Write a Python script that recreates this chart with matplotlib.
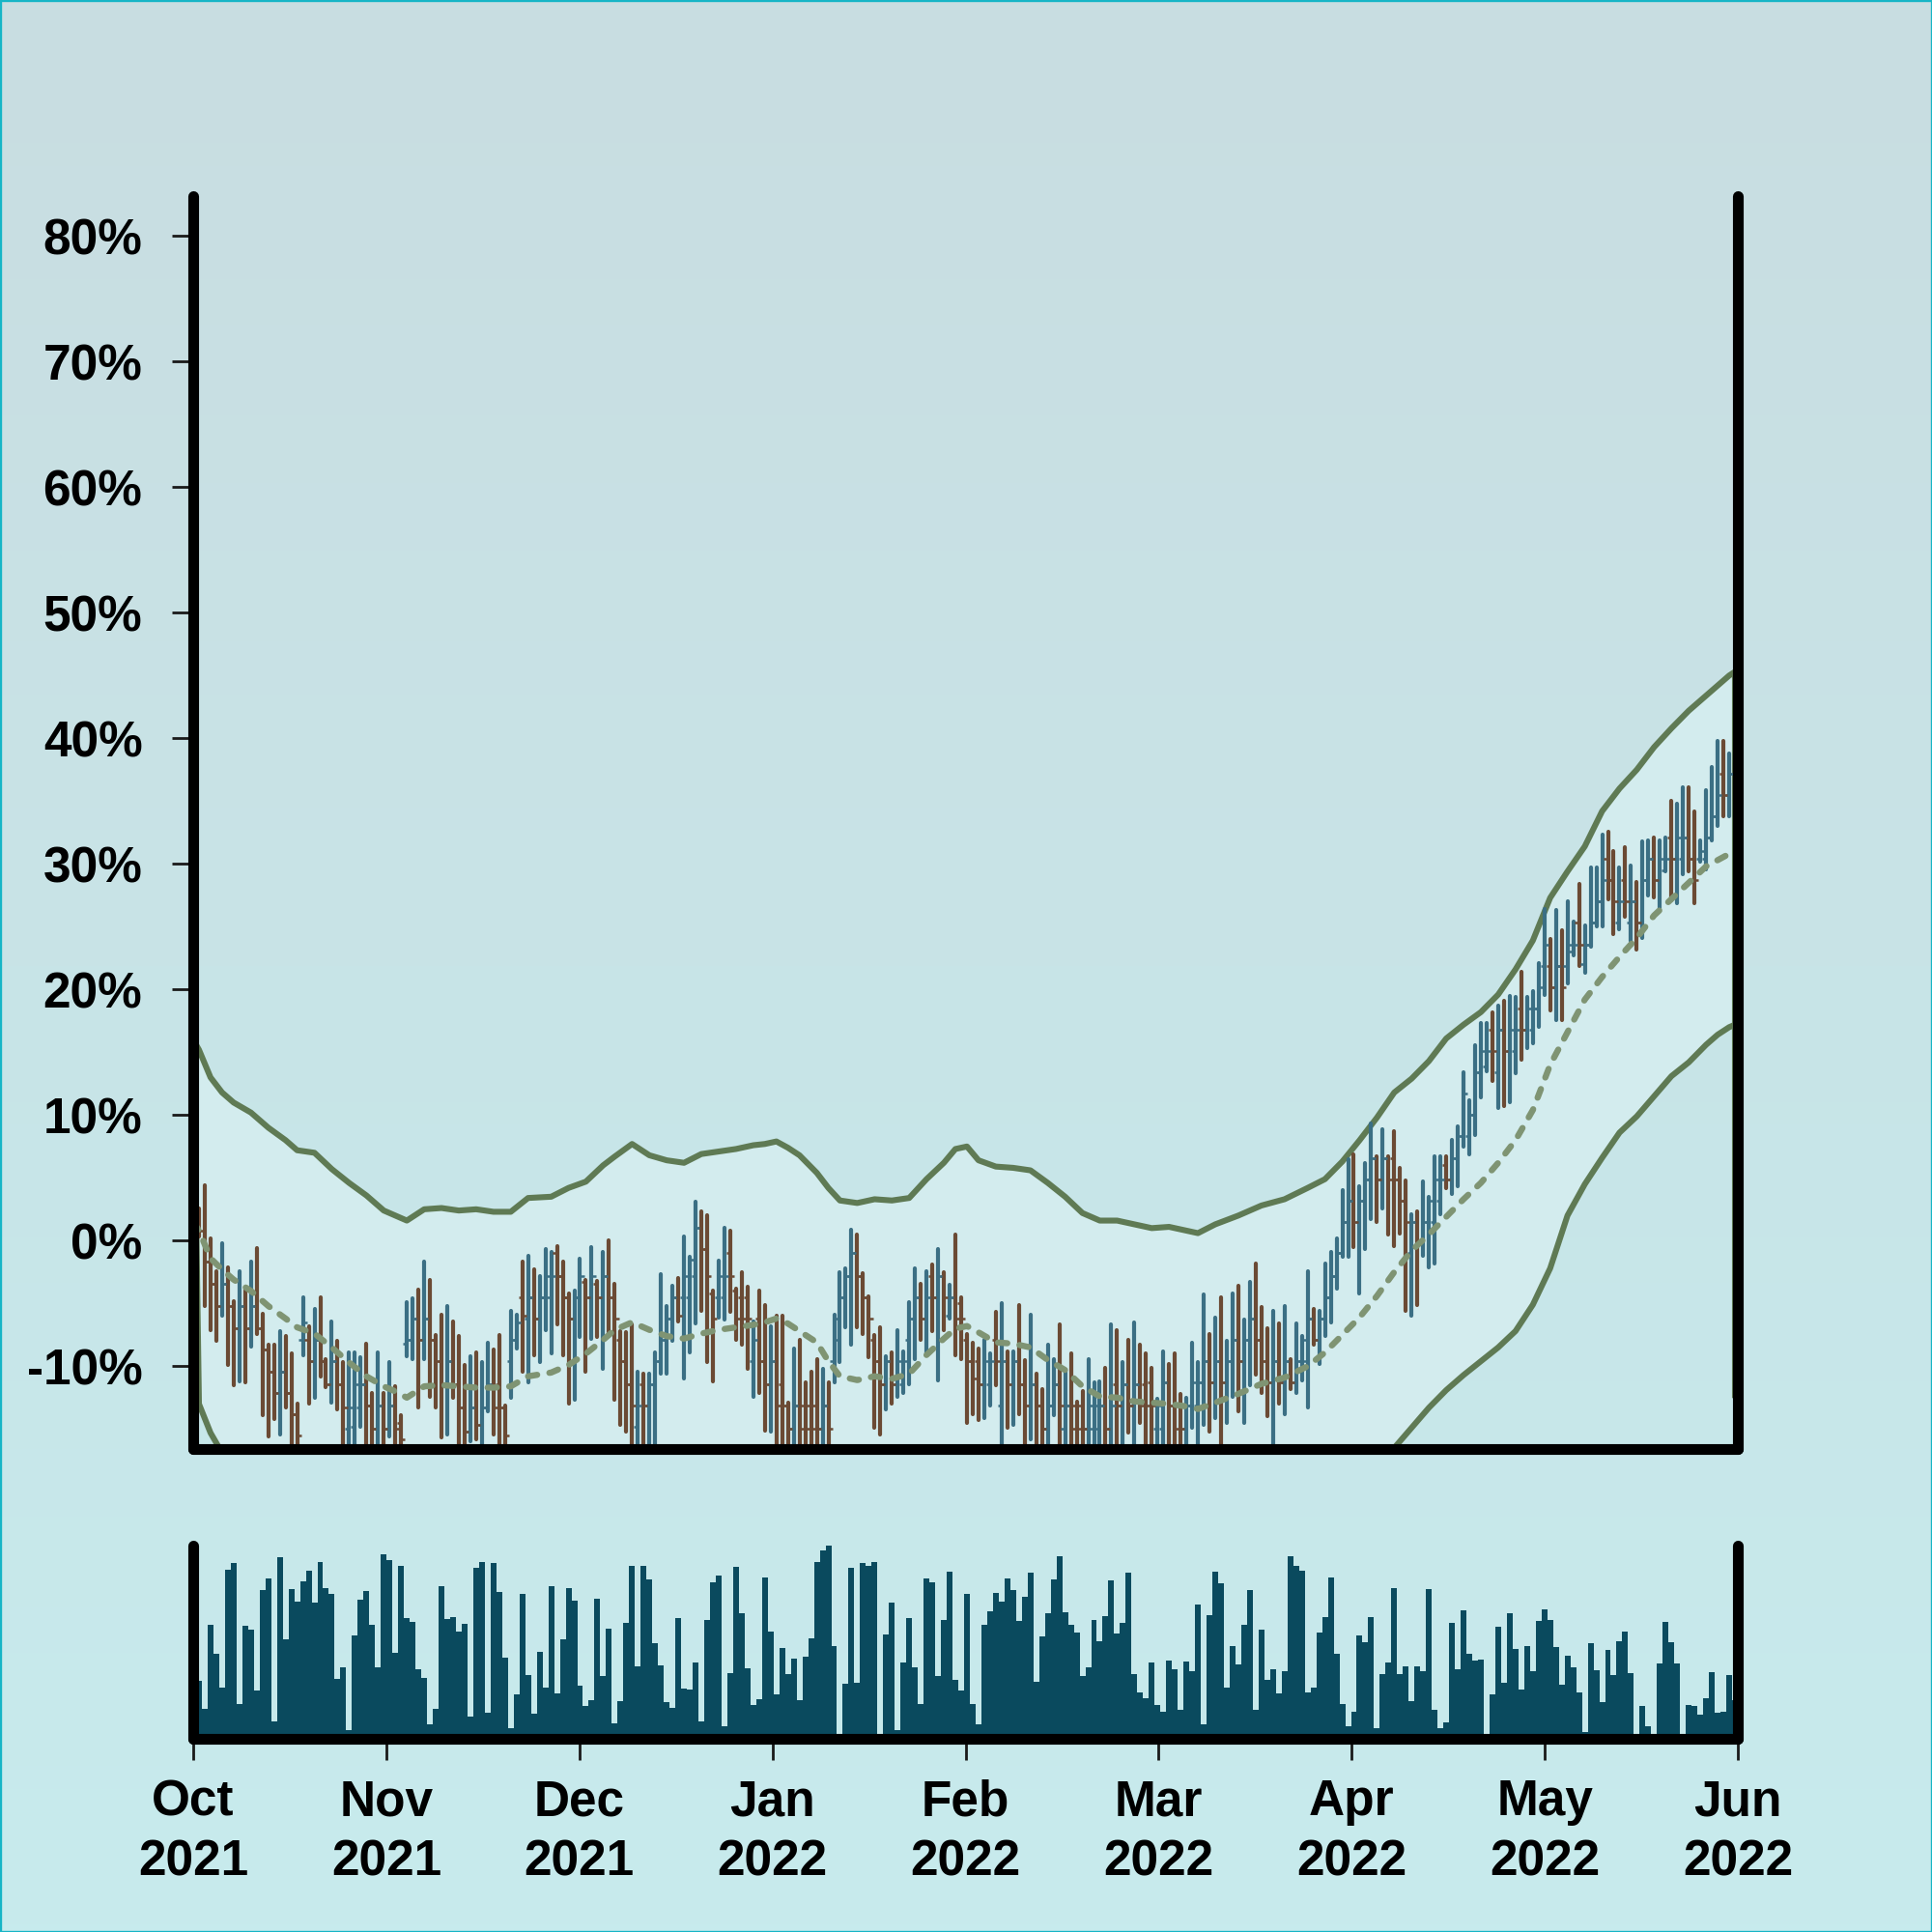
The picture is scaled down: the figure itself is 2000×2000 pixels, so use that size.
#!/usr/bin/env python3
"""
Price change OHLC chart with band, moving average and volume panel.
"""

import matplotlib
matplotlib.use("Agg")
import matplotlib.pyplot as plt
import numpy as np
from matplotlib.collections import LineCollection
from matplotlib.patches import Rectangle

# Daily bars (% change), index 0..267
opens = [
    1.5, 2.0, 0.1, -1.7, -3.4, -5.2, -3.4, -5.2, -7.0, -5.2,
    -7.0, -5.2, -7.0, -8.7, -10.4, -12.1, -10.4, -12.1, -13.8, -7.9,
    -7.9, -9.6, -7.9, -9.6, -11.4, -9.6, -11.4, -15.0, -14.8, -13.3,
    -11.4, -13.1, -15.0, -13.1, -15.0, -13.1, -14.5, -8.2, -7.9, -6.2,
    -7.9, -6.2, -7.9, -9.6, -11.4, -9.6, -11.4, -13.3, -15.2, -13.3,
    -14.7, -13.3, -11.4, -11.4, -13.3, -9.6, -7.9, -4.5, -6.2, -4.5,
    -6.2, -4.5, -4.5, -1.0, -2.8, -4.5, -6.2, -4.5, -3.3, -4.5,
    -3.4, -4.5, -2.8, -4.5, -7.9, -9.6, -11.4, -14.8, -11.4, -13.1,
    -11.4, -9.6, -7.9, -6.2, -4.5, -4.5, -4.5, -2.8, 1.0, -0.7,
    -4.2, -4.5, -4.5, -1.0, -4.0, -4.5, -4.5, -9.6, -6.2, -9.6,
    -11.4, -9.6, -11.4, -13.1, -15.0, -13.1, -13.1, -13.1, -13.1, -15.0,
    -13.1, -9.6, -6.2, -4.5, -2.8, -1.0, -2.8, -4.5, -7.9, -9.6,
    -11.4, -9.6, -11.4, -11.4, -7.9, -6.2, -4.5, -6.2, -2.8, -4.5,
    -2.8, -6.0, -4.5, -5.0, -7.9, -9.6, -9.6, -11.4, -11.4, -7.9,
    -13.1, -9.6, -11.4, -9.6, -11.4, -13.1, -11.4, -13.1, -15.0, -13.1,
    -11.4, -15.0, -13.1, -13.1, -13.1, -15.0, -15.0, -15.0, -13.1, -15.0,
    -11.4, -13.1, -11.4, -13.1, -11.4, -11.4, -11.3, -15.0, -15.0, -11.3,
    -13.1, -13.1, -15.0, -13.1, -13.1, -11.3, -9.6, -11.3, -9.6, -11.3,
    -9.6, -7.9, -9.6, -7.9, -6.2, -7.9, -9.6, -11.3, -9.6, -11.3,
    -9.6, -11.3, -9.6, -9.6, -6.2, -7.9, -6.2, -4.5, -2.8, -1.0,
    1.5, 3.2, 1.5, 3.2, 4.9, 6.6, 4.9, 6.6, 6.6, 4.9,
    3.2, -1.0, 1.5, -0.2, 1.5, 1.5, 3.2, 6.0, 4.9, 6.6,
    8.3, 8.3, 10.0, 13.4, 13.9, 16.8, 13.4, 16.8, 15.1, 15.1,
    18.5, 16.8, 16.8, 18.5, 21.9, 21.9, 20.2, 21.9, 21.9, 23.0,
    25.3, 22.0, 23.6, 25.3, 27.0, 30.4, 28.7, 25.3, 28.7, 25.3,
    27.0, 25.3, 28.7, 30.4, 28.7, 29.5, 32.1, 30.4, 30.4, 32.1,
    30.4, 30.4, 30.4, 32.1, 33.8, 37.2, 35.5, 37.2,
]
highs = [
    3.0, 2.6, 4.4, 0.2, -2.4, -0.2, -2.1, -4.8, -2.4, -3.9,
    -1.7, -0.6, -5.8, -8.3, -8.3, -7.2, -7.6, -9.0, -13.0, -4.5,
    -6.8, -5.4, -4.5, -9.4, -6.4, -8.0, -9.7, -8.9, -8.9, -9.3,
    -8.2, -12.1, -8.9, -12.1, -9.7, -11.6, -13.9, -4.9, -4.6, -3.9,
    -1.7, -3.1, -7.5, -5.9, -5.2, -6.4, -7.6, -9.9, -9.2, -8.9,
    -9.7, -8.1, -8.7, -7.5, -13.1, -5.6, -5.9, -1.7, -1.2, -2.3,
    -2.8, -0.7, -0.9, -0.4, -1.7, -4.2, -4.0, -1.4, -3.1, -0.5,
    -3.2, -0.9, 0.0, -3.4, -7.2, -7.3, -6.7, -10.4, -10.6, -10.6,
    -8.9, -2.7, -5.2, -3.6, -3.0, 0.3, -1.3, 3.1, 2.3, 2.0,
    -4.0, -1.6, 1.0, 0.8, -3.8, -2.5, -3.7, -6.4, -4.0, -5.1,
    -6.8, -6.0, -6.0, -12.9, -8.6, -7.9, -11.3, -10.4, -9.4, -10.2,
    -11.3, -5.9, -2.5, -2.2, 0.9, 0.5, -2.6, -4.4, -7.5, -6.9,
    -9.2, -8.9, -7.1, -8.8, -4.9, -2.2, -3.4, -2.4, -1.9, -0.7,
    -2.5, -3.5, 0.5, -4.5, -7.4, -8.1, -8.6, -7.9, -9.0, -5.7,
    -5.0, -8.8, -8.8, -5.1, -9.5, -5.9, -10.6, -11.8, -8.3, -9.4,
    -6.7, -10.3, -9.0, -12.8, -12.0, -9.4, -11.3, -11.2, -10.1, -6.7,
    -7.1, -9.7, -7.9, -6.5, -8.3, -9.0, -10.1, -12.6, -8.8, -9.8,
    -9.0, -12.2, -12.5, -8.1, -9.7, -4.3, -7.4, -6.1, -4.5, -8.0,
    -4.2, -3.6, -6.3, -3.3, -1.8, -5.3, -7.0, -5.6, -6.6, -5.2,
    -9.4, -6.6, -7.6, -2.4, -5.4, -5.6, -1.8, -0.9, 0.2, 4.0,
    6.5, 6.9, 4.3, 6.2, 9.3, 6.7, 8.9, 6.7, 8.7, 5.8,
    4.8, 2.1, 2.3, 4.7, 3.5, 6.7, 6.7, 6.7, 8.0, 9.1,
    13.4, 11.2, 15.6, 17.3, 17.3, 18.2, 18.7, 19.1, 19.5, 19.4,
    21.4, 19.4, 19.9, 22.1, 26.4, 24.0, 26.3, 24.7, 27.0, 25.4,
    28.4, 25.1, 29.7, 29.7, 32.3, 32.6, 31.0, 29.7, 31.3, 29.9,
    28.6, 31.8, 31.9, 32.1, 31.9, 32.1, 35.0, 34.8, 36.1, 36.1,
    34.2, 31.9, 35.9, 37.7, 39.8, 39.8, 38.8, 38.0,
]
lows = [
    0.0, 0.3, -5.2, -7.1, -8.0, -6.0, -9.9, -11.5, -11.2, -11.3,
    -8.4, -7.4, -13.9, -15.6, -14.2, -15.4, -13.3, -17.0, -18.0, -9.1,
    -13.0, -12.5, -10.8, -11.7, -12.9, -13.4, -17.5, -18.0, -17.5, -14.8,
    -17.5, -18.0, -18.0, -18.0, -15.6, -17.5, -18.0, -9.2, -9.4, -13.3,
    -9.4, -12.4, -13.3, -15.7, -15.4, -12.5, -17.5, -18.0, -16.0, -15.8,
    -17.5, -13.6, -15.4, -17.5, -18.0, -12.5, -8.6, -10.4, -11.3, -9.1,
    -9.7, -7.1, -9.0, -6.7, -9.1, -13.0, -12.7, -7.7, -10.4, -7.8,
    -7.7, -10.2, -7.6, -12.7, -14.7, -15.2, -17.5, -18.0, -18.0, -18.0,
    -17.5, -10.6, -10.6, -8.0, -6.4, -11.0, -8.9, -6.6, -5.6, -9.7,
    -11.2, -6.1, -6.3, -5.7, -7.9, -8.3, -10.2, -12.4, -12.1, -15.1,
    -15.2, -17.5, -17.5, -18.0, -17.5, -17.5, -18.0, -18.0, -18.0, -18.0,
    -18.0, -11.3, -9.7, -6.9, -8.3, -6.9, -7.4, -9.3, -14.9, -15.4,
    -13.4, -13.0, -12.4, -12.1, -11.4, -9.4, -7.9, -9.0, -7.2, -11.1,
    -7.1, -6.2, -9.1, -9.4, -14.5, -13.8, -14.3, -14.1, -13.1, -11.5,
    -17.5, -14.9, -14.7, -13.8, -17.5, -15.8, -17.5, -18.0, -18.0, -13.9,
    -17.5, -17.5, -17.5, -18.0, -18.0, -18.0, -18.0, -18.0, -18.0, -17.5,
    -17.5, -17.5, -15.3, -17.5, -14.5, -17.5, -17.5, -18.0, -17.5, -17.5,
    -17.5, -18.0, -18.0, -14.9, -17.5, -14.7, -15.2, -14.1, -17.5, -14.5,
    -12.4, -13.6, -14.5, -11.5, -10.7, -12.1, -14.0, -17.5, -13.0, -13.8,
    -11.8, -12.1, -11.1, -13.3, -8.3, -9.8, -7.6, -6.5, -3.8, -1.3,
    -1.3, -0.5, -4.2, -0.7, 1.7, 1.5, 2.6, 0.5, -0.4, 0.6,
    -5.6, -6.0, -5.1, -1.2, -2.1, -1.8, 2.1, 4.2, 3.7, 4.3,
    7.5, 6.9, 8.4, 11.4, 13.5, 12.7, 10.6, 10.7, 11.0, 13.3,
    14.4, 15.3, 15.7, 17.0, 19.6, 18.3, 17.6, 17.6, 20.5, 22.7,
    21.9, 21.3, 23.4, 25.0, 25.0, 27.2, 24.4, 24.8, 25.8, 23.9,
    23.2, 24.1, 27.5, 27.3, 26.3, 29.4, 27.1, 26.9, 29.2, 29.4,
    26.9, 30.2, 29.6, 31.9, 33.0, 33.8, 33.8, 35.0,
]
closes = [
    1.0, 0.8, -1.7, -3.4, -5.2, -3.4, -5.2, -7.0, -5.2, -7.0,
    -5.2, -7.0, -8.7, -10.4, -12.1, -10.4, -12.1, -13.8, -15.5, -6.5,
    -9.6, -7.9, -9.6, -11.4, -9.6, -11.4, -13.3, -13.3, -11.4, -11.4,
    -13.1, -15.0, -13.1, -15.0, -13.1, -15.0, -15.8, -7.9, -6.2, -7.9,
    -6.2, -7.9, -9.6, -11.4, -9.6, -11.4, -13.3, -15.2, -13.3, -14.7,
    -13.3, -11.4, -13.3, -13.3, -15.5, -7.9, -6.5, -6.0, -4.5, -6.2,
    -4.5, -2.8, -2.8, -2.8, -4.5, -6.2, -4.5, -2.8, -4.5, -2.8,
    -4.5, -2.8, -4.5, -6.2, -9.6, -11.4, -13.1, -13.1, -13.1, -11.4,
    -9.6, -7.9, -6.2, -4.5, -6.0, -2.8, -1.5, 1.0, -0.7, -2.8,
    -6.2, -2.8, -2.8, -2.8, -6.2, -6.2, -6.2, -7.9, -9.6, -11.4,
    -9.6, -13.1, -13.1, -15.0, -13.1, -15.0, -15.0, -15.0, -15.0, -13.1,
    -15.0, -7.9, -4.5, -2.8, -1.0, -2.8, -4.5, -6.2, -9.6, -11.4,
    -9.6, -11.4, -9.6, -9.6, -6.2, -4.5, -6.2, -4.5, -4.5, -2.8,
    -4.5, -4.5, -6.2, -6.2, -9.6, -11.0, -11.4, -9.6, -9.6, -9.6,
    -9.6, -11.4, -9.6, -11.4, -13.1, -11.4, -13.1, -15.0, -13.1, -11.4,
    -13.1, -13.1, -15.0, -15.0, -15.0, -13.1, -13.1, -13.1, -15.0, -13.1,
    -13.1, -11.4, -13.1, -11.4, -13.1, -13.1, -13.1, -13.1, -11.3, -13.1,
    -15.0, -15.0, -13.1, -11.3, -11.3, -9.6, -11.3, -9.6, -11.3, -9.6,
    -7.9, -9.6, -7.9, -6.2, -7.9, -9.6, -11.3, -9.6, -11.3, -9.6,
    -11.3, -9.6, -7.9, -6.2, -7.9, -6.2, -4.5, -2.8, -1.0, 1.5,
    3.2, 1.5, 3.2, 4.9, 6.6, 4.9, 6.6, 4.9, 4.9, 3.2,
    1.5, 1.5, -0.2, 1.5, 3.2, 4.9, 4.9, 4.9, 6.6, 8.3,
    11.7, 10.0, 13.4, 15.1, 15.1, 15.1, 16.8, 15.1, 16.8, 16.8,
    16.8, 18.5, 18.5, 20.2, 23.6, 20.2, 21.9, 20.2, 23.6, 23.6,
    23.6, 23.6, 25.3, 27.0, 28.7, 28.7, 27.0, 27.0, 27.0, 27.0,
    25.3, 28.7, 30.4, 28.7, 30.4, 30.4, 30.4, 32.1, 32.1, 30.4,
    28.7, 31.0, 32.1, 33.8, 35.5, 35.5, 37.2, 36.0,
]

# Volume, as % of the panel height
volume = [
    40, 30, 15.3, 58.8, 43.8, 26.3, 87.5, 90.8, 18.2, 58.3,
    56.3, 25.2, 77, 83, 8.8, 93.8, 51.5, 77.7, 70.8, 81.7,
    86.8, 70.3, 91.3, 78, 74.8, 31, 37, 4.5, 53.3, 72,
    76.5, 59, 36.8, 95.3, 92.3, 44.5, 89.5, 62.7, 60.5, 36.2,
    31.3, 7.7, 15.5, 78.8, 61.8, 62.8, 55.3, 59.5, 11.3, 88.3,
    91.5, 13.7, 90.8, 76.2, 41.8, 5.3, 23.2, 74.8, 32.8, 12.8,
    45, 26.5, 79.2, 23.3, 51.3, 77.8, 71.7, 27.5, 17.2, 19.8,
    72.7, 32.3, 57, 8, 19.5, 60, 89.5, 37.7, 89.7, 82.3,
    49.3, 37.8, 18.8, 16.2, 62.3, 26.2, 25.5, 39.3, 8.8, 61.5,
    80.8, 84.5, 6.7, 34, 89, 65.2, 36.5, 17.3, 20.5, 83.5,
    55.5, 22.8, 47, 33.5, 41.5, 19.8, 42.3, 52, 91.3, 97.3,
    100, 48, 0, 28.3, 88.3, 29.2, 90.8, 89.7, 91.3, 0,
    53.8, 70.3, 4.3, 39.3, 62.3, 37.2, 17.8, 82.8, 80.8, 32.5,
    61.5, 86.5, 30.3, 25, 75, 17.8, 7.3, 58.8, 66, 75.5,
    70.8, 82.8, 77, 60.8, 73.7, 86, 29.5, 53.2, 65, 82.3,
    94.5, 65.5, 59.2, 55, 32.3, 37, 61.3, 50.7, 63.3, 82,
    54.7, 60, 86, 33.3, 23.8, 21.2, 39.3, 17.5, 14.2, 40.5,
    36.2, 15, 40, 35, 69.5, 7.7, 63.8, 86.3, 80.5, 26.3,
    48, 38.7, 59.2, 77, 15, 56.5, 30.3, 35.8, 23.7, 35,
    94.5, 89.3, 87.2, 24.2, 26.7, 54.8, 63, 83.3, 44, 17.8,
    6.5, 14.2, 53.7, 50, 62.8, 5.3, 33.3, 39.5, 77.8, 33.5,
    37.5, 19.5, 37.5, 35, 77.3, 15, 5.5, 8.5, 60, 36,
    66.3, 43.8, 40.3, 41, 0, 22.8, 57.8, 28.8, 64.8, 46.3,
    25.3, 48.2, 34.8, 60.8, 66.8, 61.3, 47.5, 28, 43.2, 37.2,
    24, 3.7, 49.3, 35.3, 18.8, 46.2, 32.8, 50.5, 55.5, 34.2,
    0, 16.8, 6.3, 0, 38.8, 60.3, 49.8, 38.8, 0, 17.3,
    16.8, 12.5, 21.2, 34.5, 13.3, 13.8, 32.8, 20,
]

# Moving average and band, sampled along the bar index
band_idx = [
    0, 1, 3, 5, 7, 10, 13, 16, 18, 21, 24, 27, 30, 33, 35, 37, 40, 43, 46, 49,
    52, 55, 58, 62, 65, 68, 71, 73, 76, 79, 82, 85, 88, 91, 94, 97, 99, 101, 103, 105,
    108, 110, 112, 115, 118, 121, 124, 127, 130, 132, 134, 136, 139, 142, 145, 148, 151, 154, 157, 160,
    163, 166, 169, 172, 174, 177, 181, 185, 189, 193, 196, 199, 202, 205, 208, 211, 214, 217, 220, 223,
    226, 229, 232, 235, 238, 241, 244, 247, 250, 253, 256, 259, 262, 264, 266, 267, 267,
]
moving_avg = [
    1.5, 0.8, -1.4, -2.3, -3.1, -4.0, -5.2, -6.2, -6.9, -7.4, -8.5, -9.7, -10.8, -11.6, -12.0, -12.5, -11.6, -11.5, -11.6, -11.7,
    -11.7, -11.6, -10.8, -10.5, -9.9, -9.0, -7.9, -7.1, -6.5, -7.1, -7.6, -7.8, -7.4, -7.1, -6.9, -6.7, -6.5, -6.2, -6.6, -7.2,
    -8.1, -9.6, -10.8, -11.1, -10.8, -11.0, -10.6, -9.1, -7.8, -7.0, -6.8, -7.3, -8.1, -8.2, -8.5, -9.5, -10.3, -11.6, -12.4, -12.5,
    -12.8, -12.9, -13.0, -13.2, -13.4, -12.9, -12.2, -11.4, -10.9, -10.0, -8.9, -7.5, -6.1, -4.4, -2.5, -0.8, 0.5, 1.9, 3.3, 4.6,
    6.2, 8.0, 10.4, 14.0, 16.6, 19.2, 21.0, 22.6, 24.1, 25.9, 27.2, 28.5, 29.8, 30.3, 30.8, 31.0, 31.0,
]
upper_band = [
    16.0, 15.2, 13.0, 11.8, 11.0, 10.2, 9.0, 8.0, 7.2, 7.0, 5.7, 4.6, 3.6, 2.4, 2.0, 1.6, 2.5, 2.6, 2.4, 2.5,
    2.3, 2.3, 3.4, 3.5, 4.2, 4.7, 6.0, 6.7, 7.7, 6.8, 6.4, 6.2, 6.9, 7.1, 7.3, 7.6, 7.7, 7.9, 7.4, 6.8,
    5.4, 4.2, 3.2, 3.0, 3.3, 3.2, 3.4, 4.9, 6.2, 7.3, 7.5, 6.4, 5.9, 5.8, 5.6, 4.6, 3.5, 2.2, 1.6, 1.6,
    1.3, 1.0, 1.1, 0.8, 0.6, 1.3, 2.0, 2.8, 3.3, 4.2, 4.9, 6.3, 8.0, 9.8, 11.8, 12.9, 14.3, 16.1, 17.2, 18.2,
    19.6, 21.6, 23.9, 27.3, 29.4, 31.4, 34.2, 36.0, 37.5, 39.3, 40.8, 42.2, 43.4, 44.2, 45.0, 45.3, -12.3,
]
lower_band = [
    18.0, -13.0, -15.3, -16.9, -17.5, -18.2, -19.2, -20.2, -21.0, -21.5, -22.5, -23.8, -25.0, -25.6, -26.0, -26.5, -25.6, -25.5, -25.6, -25.8,
    -25.8, -25.6, -25.0, -24.5, -24.0, -23.0, -22.0, -21.0, -20.5, -21.0, -21.5, -21.8, -21.5, -21.0, -21.0, -20.8, -20.6, -20.3, -20.6, -21.2,
    -22.0, -23.5, -24.8, -25.0, -25.0, -25.0, -24.6, -23.0, -21.8, -21.0, -20.8, -21.0, -22.0, -22.0, -22.5, -23.5, -24.3, -25.6, -26.4, -26.5,
    -26.8, -27.0, -27.0, -27.2, -27.4, -26.9, -26.2, -25.4, -25.0, -24.2, -23.0, -21.5, -20.0, -18.5, -16.5, -14.9, -13.3, -11.9, -10.7, -9.6,
    -8.5, -7.2, -5.1, -2.2, 2.0, 4.5, 6.6, 8.6, 9.9, 11.5, 13.1, 14.2, 15.6, 16.4, 17.0, 17.2, 17.2,
]

month_labels = ["Oct\n2021", "Nov\n2021", "Dec\n2021", "Jan\n2022", "Feb\n2022",
                "Mar\n2022", "Apr\n2022", "May\n2022", "Jun\n2022"]
y_ticks = [-10, 0, 10, 20, 30, 40, 50, 60, 70, 80]

UP_COLOR = "#3b6f84"
DOWN_COLOR = "#6b4a34"
BAND_COLOR = "#5f7a54"
MA_COLOR = "#7f9473"
FILL_COLOR = "#d3ecee"
VOL_COLOR = "#0a4a5e"

plt.rcParams["font.family"] = ["Liberation Sans", "DejaVu Sans"]
plt.rcParams["font.weight"] = "bold"

XMAX = 267.5


def style_spines(ax, sides):
    for side, spine in ax.spines.items():
        if side in sides:
            spine.set_linewidth(4)
            spine.set_capstyle("round")
            spine.set_zorder(10)
            spine.set_color("black")
        else:
            spine.set_visible(False)


fig = plt.figure(figsize=(10, 10), dpi=200)

# Vertical gradient background
bg = fig.add_axes([0, 0, 1, 1], zorder=-10)
top_c = np.array([201, 221, 225]) / 255
bot_c = np.array([199, 235, 237]) / 255
t = np.linspace(0, 1, 256)[:, None, None]
bg.imshow(top_c + (bot_c - top_c) * t, aspect="auto", extent=[0, 1, 0, 1], origin="upper")
bg.axis("off")
fig.patches.append(Rectangle((0, 0), 1, 1, transform=fig.transFigure, fill=False,
                             edgecolor="#17b5c6", linewidth=1.2))

# Price panel
ax = fig.add_axes([0.1, 0.25025, 0.7995, 0.6484])
ax.set_facecolor("none")
x = np.arange(len(closes))

ax.fill_between(band_idx, lower_band, upper_band, color=FILL_COLOR, lw=0, zorder=1)
ax.plot(band_idx, upper_band, color=BAND_COLOR, lw=2.2, zorder=2, solid_joinstyle="round")
ax.plot(band_idx, lower_band, color=BAND_COLOR, lw=2.2, zorder=2, solid_joinstyle="round")

colors = [UP_COLOR if c >= o else DOWN_COLOR for o, c in zip(opens, closes)]
ranges = [[(i, lo), (i, hi)] for i, lo, hi in zip(x, lows, highs)]
ax.add_collection(LineCollection(ranges, colors=colors, linewidths=1.5, capstyle="round", zorder=3))
tick_len = 0.7
open_ticks = [[(i - tick_len, o), (i, o)] for i, o in zip(x, opens)]
close_ticks = [[(i, c), (i + tick_len, c)] for i, c in zip(x, closes)]
ax.add_collection(LineCollection(open_ticks, colors=colors, linewidths=0.9, zorder=3))
ax.add_collection(LineCollection(close_ticks, colors=colors, linewidths=0.9, zorder=3))

ax.plot(band_idx, moving_avg, color=MA_COLOR, lw=2.3, ls=(0, (1.5, 2.0)),
        dash_capstyle="round", zorder=4)

ax.set_xlim(0, XMAX)
ax.set_ylim(-16.55, 83.2)
ax.set_yticks(y_ticks)
ax.set_yticklabels([f"{v}%" for v in y_ticks])
ax.tick_params(axis="y", length=7.9, width=1, pad=11, labelsize=18.5, color="#1a1a1a")
ax.tick_params(axis="x", bottom=False, labelbottom=False)
style_spines(ax, ["left", "right", "bottom"])

# Volume panel
axv = fig.add_axes([0.1, 0.1, 0.7995, 0.1])
axv.set_facecolor("none")
axv.bar(x, volume, width=1.0, color=VOL_COLOR, linewidth=0, zorder=2)
axv.set_xlim(0, XMAX)
axv.set_ylim(0, 100)
axv.set_yticks([])
axv.set_xticks(np.linspace(0, XMAX, len(month_labels)))
axv.set_xticklabels(month_labels, linespacing=1.35)
axv.tick_params(axis="x", length=7.9, width=1, pad=7, labelsize=18.5, color="#1a1a1a")
style_spines(axv, ["left", "right", "bottom"])

fig.savefig("out.png", dpi=200)
